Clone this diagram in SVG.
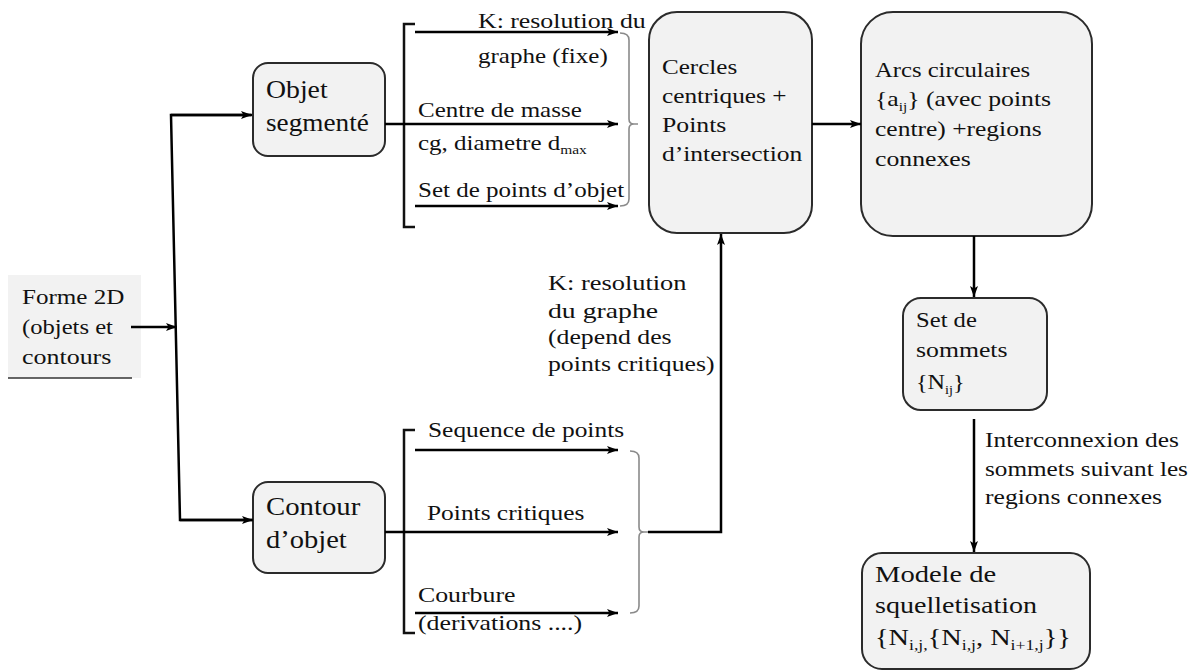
<svg xmlns="http://www.w3.org/2000/svg" width="1199" height="671" viewBox="0 0 1199 671">
<style>
text{fill:#111;}
.box{fill:#f2f2f2;stroke:#2b2b2b;stroke-width:2;}
.c{fill:none;stroke:#000;stroke-width:2.5;}
.br{fill:none;stroke:#111;stroke-width:2.5;}
.gb{fill:none;stroke:#8a8a8a;stroke-width:1.6;}
.f21{font-size:21px;}
.f22{font-size:22px;}
.f25{font-size:25px;}
.f24{font-size:24px;}
.sub{font-size:13px;}
</style>
<defs>
<marker id="ah" markerUnits="userSpaceOnUse" markerWidth="12" markerHeight="10" refX="11" refY="5" orient="auto">
<path d="M0,1 L11,5 L0,9 L2.5,5 z" fill="#000"/>
</marker>
</defs>

<g id="forme" font-family="Liberation Serif, serif">
<rect x="8" y="275" width="133" height="103" fill="#f2f2f2"/>
<line x1="8" y1="378" x2="132" y2="378" stroke="#333" stroke-width="1.5"/>
<text class="f22" transform="translate(22 304) scale(1.14 1)">Forme 2D</text>
<text class="f22" transform="translate(22 334) scale(1.12 1)">(objets et</text>
<text class="f22" transform="translate(22 364) scale(1.18 1)">contours</text>
</g>

<g id="objet" font-family="Liberation Serif, serif">
<rect class="box" x="253" y="63" width="132" height="93" rx="15"/>
<text class="f25" transform="translate(266 98) scale(1.11 1)">Objet</text>
<text class="f25" transform="translate(266 131) scale(1.09 1)">segmenté</text>
</g>

<g id="contour" font-family="Liberation Serif, serif">
<rect class="box" x="253" y="482" width="132" height="91" rx="15"/>
<text class="f25" transform="translate(266 515) scale(1.15 1)">Contour</text>
<text class="f25" transform="translate(266 548) scale(1.14 1)">d’objet</text>
</g>

<g id="cercles" font-family="Liberation Serif, serif">
<rect class="box" x="649" y="12" width="163" height="221" rx="28"/>
<text class="f22" transform="translate(662 74) scale(1.14 1)">Cercles</text>
<text class="f22" transform="translate(662 103) scale(1.15 1)">centriques +</text>
<text class="f22" transform="translate(662 132) scale(1.17 1)">Points</text>
<text class="f22" transform="translate(662 161) scale(1.16 1)">d’intersection</text>
</g>

<g id="arcs" font-family="Liberation Serif, serif">
<rect class="box" x="861" y="12" width="231" height="224" rx="32"/>
<text class="f22" transform="translate(875 77) scale(1.12 1)">Arcs circulaires</text>
<text class="f22" transform="translate(875 106) scale(1.17 1)">{a<tspan class="sub" dy="5">ij</tspan><tspan dy="-5">} (avec points</tspan></text>
<text class="f22" transform="translate(875 136) scale(1.16 1)">centre) +regions</text>
<text class="f22" transform="translate(875 166) scale(1.17 1)">connexes</text>
</g>

<g id="sommets" font-family="Liberation Serif, serif">
<rect class="box" x="903" y="298" width="144" height="112" rx="18"/>
<text class="f22" transform="translate(916 327) scale(1.12 1)">Set de</text>
<text class="f22" transform="translate(916 357) scale(1.17 1)">sommets</text>
<text class="f22" transform="translate(916 389) scale(1.1 1)">{N<tspan class="sub" dy="5">ij</tspan><tspan dy="-5">}</tspan></text>
</g>

<g id="modele" font-family="Liberation Serif, serif">
<rect class="box" x="862" y="553" width="228" height="116" rx="20"/>
<text class="f24" transform="translate(875 582) scale(1.19 1)">Modele de</text>
<text class="f24" transform="translate(875 613) scale(1.17 1)">squelletisation</text>
<text class="f24" transform="translate(875 645) scale(1.18 1)">{N<tspan font-size="15" dy="5">i,j,</tspan><tspan dy="-5">{N</tspan><tspan font-size="15" dy="5">i,j</tspan><tspan dy="-5">, N</tspan><tspan font-size="15" dy="5">i+1,j</tspan><tspan dy="-5">}}</tspan></text>
</g>

<g id="labels" font-family="Liberation Serif, serif">
<text class="f21" transform="translate(478 28) scale(1.23 1)">K: resolution du</text>
<text class="f21" transform="translate(478 63) scale(1.19 1)">graphe (fixe)</text>
<text class="f21" transform="translate(418 117) scale(1.19 1)">Centre de masse</text>
<text class="f21" transform="translate(418 150) scale(1.19 1)">cg, diametre d<tspan class="sub" dy="4">max</tspan></text>
<text class="f21" transform="translate(418 197) scale(1.19 1)">Set de points d’objet</text>
<text class="f22" transform="translate(548 290) scale(1.2 1)">K: resolution</text>
<text class="f22" transform="translate(548 318) scale(1.26 1)">du graphe</text>
<text class="f22" transform="translate(548 344) scale(1.17 1)">(depend des</text>
<text class="f22" transform="translate(548 371) scale(1.17 1)">points critiques)</text>
<text class="f21" transform="translate(428 437) scale(1.21 1)">Sequence de points</text>
<text class="f21" transform="translate(427 520) scale(1.21 1)">Points critiques</text>
<text class="f21" transform="translate(418 602) scale(1.23 1)">Courbure</text>
<text class="f21" transform="translate(418 630) scale(1.23 1)">(derivations ....)</text>
<text class="f21" transform="translate(985 447) scale(1.21 1)">Interconnexion des</text>
<text class="f21" transform="translate(985 476) scale(1.2 1)">sommets suivant les</text>
<text class="f21" transform="translate(985 504) scale(1.22 1)">regions connexes</text>
</g>

<g id="connectors">
<line class="c" x1="131" y1="327" x2="177" y2="327" marker-end="url(#ah)"/>
<polyline class="c" points="251,115 171,115 180,520 252,520"/>
<line class="c" x1="171" y1="115" x2="252" y2="115" marker-end="url(#ah)"/>
<line class="c" x1="180" y1="520" x2="253" y2="520" marker-end="url(#ah)"/>
<path class="br" d="M415,24 H404 V227 H415"/>
<line class="c" x1="415" y1="32" x2="618" y2="32" marker-end="url(#ah)"/>
<line class="c" x1="385" y1="124" x2="618" y2="124" marker-end="url(#ah)"/>
<line class="c" x1="415" y1="206" x2="618" y2="206" marker-end="url(#ah)"/>
<path class="gb" d="M620,33 Q629,33 629,40 V119 Q629,124 634,124 H638 M634,124 Q629,124 629,129 V199 Q629,206 620,206"/>
<line class="c" x1="812" y1="124" x2="861" y2="124" marker-end="url(#ah)"/>
<path class="br" d="M415,430 H404 V633 H415"/>
<line class="c" x1="415" y1="450" x2="618" y2="450" marker-end="url(#ah)"/>
<line class="c" x1="385" y1="532" x2="618" y2="532" marker-end="url(#ah)"/>
<line class="c" x1="415" y1="613" x2="618" y2="613" marker-end="url(#ah)"/>
<path class="gb" d="M630,451 Q639,451 639,458 V527 Q639,532 644,532 H648 M644,532 Q639,532 639,537 V606 Q639,613 630,613"/>
<path class="c" d="M648,532 H721 V234" marker-end="url(#ah)"/>
<line class="c" x1="974" y1="236" x2="974" y2="297" marker-end="url(#ah)"/>
<line class="c" x1="974" y1="419" x2="974" y2="552" marker-end="url(#ah)"/>
</g>
</svg>
